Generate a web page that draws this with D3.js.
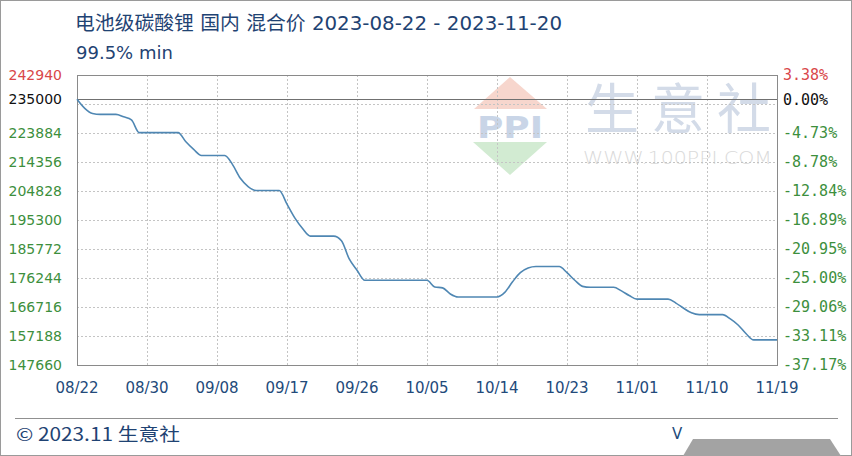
<!DOCTYPE html>
<html><head><meta charset="utf-8">
<script src="https://cdn.jsdelivr.net/npm/d3@7/dist/d3.min.js"></script>
<style>html,body{margin:0;padding:0;background:#fff;}svg{display:block;}</style>
</head><body>
<svg id="chart" width="852" height="456"></svg>
<script>
// ---- data ----
const titleText = "电池级碳酸锂 国内 混合价 2023-08-22 - 2023-11-20";
const subtitleText = "99.5% min";
const basePrice = 235000;
const yTickValues = [147660, 157188, 166716, 176244, 185772, 195300, 204828, 214356, 223884, 233412, 242940];
const yLabelValues = [147660, 157188, 166716, 176244, 185772, 195300, 204828, 214356, 223884, 235000, 242940];
const xTickIndex = [0, 9, 18, 27, 36, 45, 54, 63, 72, 81, 90];
const xTickLabels = ["08/22", "08/30", "09/08", "09/17", "09/26", "10/05", "10/14", "10/23", "11/01", "11/10", "11/19"];
const prices = [
  235000, 232000, 230300, 230000, 230000, 230000, 229200, 228200, 224000, 224000,
  224000, 224000, 224000, 224000, 221000, 218500, 216500, 216500, 216500, 216500,
  213500, 209000, 206300, 205000, 205000, 205000, 205000, 200500, 196000, 192500,
  190000, 190000, 190000, 190000, 188500, 182500, 178800, 175500, 175500, 175500,
  175500, 175500, 175500, 175500, 175500, 175500, 173300, 173000, 171000, 170000,
  170000, 170000, 170000, 170000, 170000, 171500, 175000, 178000, 179500, 180000,
  180000, 180000, 180000, 178000, 175500, 173500, 173200, 173200, 173200, 173200,
  172000, 170500, 169300, 169300, 169300, 169300, 169300, 168000, 166300, 164800,
  164200, 164200, 164200, 164200, 162800, 160800, 158000, 155900, 155900, 155900,
  155900
];
const footerText = "© 2023.11 生意社";

// ---- layout ----
const svg = d3.select("#chart");
const W = 852, H = 456;
const plot = {left: 77, right: 777, top: 75, bottom: 365};
const x = d3.scaleLinear().domain([0, prices.length - 1]).range([plot.left, plot.right]);
const y = d3.scaleLinear().domain([147660, 242940]).range([plot.bottom, plot.top]);

// outer border
svg.append("rect").attr("x", 0.5).attr("y", 0.5).attr("width", W - 1).attr("height", H - 1)
  .attr("fill", "#fff").attr("stroke", "#9a9a9a");

// title
svg.append("text").attr("x", 75).attr("y", 30).text(titleText)
  .attr("font-family", "'DejaVu Sans','Noto Sans CJK SC',sans-serif").attr("font-size", 19.5).attr("fill", "#1f4373")
  .attr("textLength", 487).attr("lengthAdjust", "spacingAndGlyphs");
svg.append("text").attr("x", 76).attr("y", 59).text(subtitleText)
  .attr("font-family", "'DejaVu Sans','Noto Sans CJK SC',sans-serif").attr("font-size", 18).attr("fill", "#1f4373");

// watermark
const wm = svg.append("g");
wm.append("path").attr("d", `M510,77 L547,109 L474,109 Z`).attr("fill", "#f6cfc4").attr("opacity", 0.85);
wm.append("text").attr("x", 510).attr("y", 138).attr("text-anchor", "middle").text("PPI")
  .attr("font-family", "'DejaVu Sans',sans-serif").attr("font-weight", "bold").attr("font-size", 30)
  .attr("fill", "#c9d5e7").attr("textLength", 66).attr("lengthAdjust", "spacingAndGlyphs");
wm.append("path").attr("d", `M473,142 L547,142 L510,175 Z`).attr("fill", "#d2ebd2");
wm.append("text").attr("x", 585).attr("y", 129).text("生意社")
  .attr("font-family", "'Noto Sans CJK SC',sans-serif").attr("font-size", 54).attr("fill", "#d3dbe8")
  .attr("textLength", 186).attr("lengthAdjust", "spacing");
wm.append("text").attr("x", 583).attr("y", 164).text("WWW.100PPI.COM")
  .attr("font-family", "'DejaVu Sans',sans-serif").attr("font-weight", 300).attr("font-size", 17).attr("fill", "#dadada")
  .attr("textLength", 189).attr("lengthAdjust", "spacingAndGlyphs");

// grid
const grid = svg.append("g").attr("stroke", "#c4c4c4").attr("stroke-dasharray", "2,2").attr("stroke-width", 1);
yTickValues.filter(v => v > 147660 && v < 242940).forEach(v => {
  grid.append("line").attr("x1", plot.left).attr("x2", plot.right)
    .attr("y1", Math.round(y(v)) + 0.5).attr("y2", Math.round(y(v)) + 0.5);
});
xTickIndex.filter(i => i > 0 && i < prices.length - 1).forEach(i => {
  grid.append("line").attr("y1", plot.top).attr("y2", plot.bottom)
    .attr("x1", Math.round(x(i)) + 0.5).attr("x2", Math.round(x(i)) + 0.5);
});

// base line
svg.append("line").attr("x1", plot.left).attr("x2", plot.right)
  .attr("y1", Math.round(y(basePrice)) + 0.5).attr("y2", Math.round(y(basePrice)) + 0.5)
  .attr("stroke", "#707070").attr("stroke-width", 1);

// frame
svg.append("rect").attr("x", plot.left + 0.5).attr("y", plot.top + 0.5)
  .attr("width", plot.right - plot.left).attr("height", plot.bottom - plot.top)
  .attr("fill", "none").attr("stroke", "#8a8a8a");

// price line
const line = d3.line().x((d, i) => x(i)).y(d => y(d)).curve(d3.curveMonotoneX);
svg.append("path").datum(prices).attr("d", line)
  .attr("fill", "none").attr("stroke", "#4f87b3").attr("stroke-width", 1.6);

// left axis labels
const colorFor = v => v === 242940 ? "#d9474a" : (v === basePrice ? "#111" : "#3d8f3d");
svg.append("g").selectAll("text").data(yLabelValues).join("text")
  .attr("x", 62).attr("y", d => y(d)).attr("dy", "0.36em").attr("text-anchor", "end")
  .attr("font-family", "'DejaVu Sans',sans-serif").attr("font-size", 14)
  .attr("fill", colorFor).text(d => d3.format("d")(d));

// right axis labels
svg.append("g").selectAll("text").data(yLabelValues).join("text")
  .attr("x", 783).attr("y", d => y(d)).attr("dy", "0.36em")
  .attr("font-family", "'DejaVu Sans Mono',monospace").attr("font-size", 15)
  .attr("fill", colorFor).text(d => ((d - basePrice) / basePrice * 100).toFixed(2) + "%");

// x labels
svg.append("g").selectAll("text").data(xTickIndex).join("text")
  .attr("x", d => x(d)).attr("y", 393).attr("text-anchor", "middle")
  .attr("font-family", "'DejaVu Sans',sans-serif").attr("font-size", 15)
  .attr("fill", "#234a7a").text((d, i) => xTickLabels[i]);

// footer
svg.append("line").attr("x1", 15).attr("x2", 838).attr("y1", 418.5).attr("y2", 418.5)
  .attr("stroke", "#909090");
svg.append("text").attr("x", 16).attr("y", 441).text(footerText)
  .attr("font-family", "'Noto Sans CJK SC',sans-serif").attr("font-size", 18).attr("fill", "#1f4373")
  .attr("textLength", 164).attr("lengthAdjust", "spacingAndGlyphs");
svg.append("text").attr("x", 672).attr("y", 439).text("V")
  .attr("font-family", "'DejaVu Sans',sans-serif").attr("font-size", 15).attr("fill", "#234a7a");
svg.append("path").attr("d", "M693,439 L830,439 L841,456 L683,456 Z").attr("fill", "#a3a3a3");
</script>
</body></html>
